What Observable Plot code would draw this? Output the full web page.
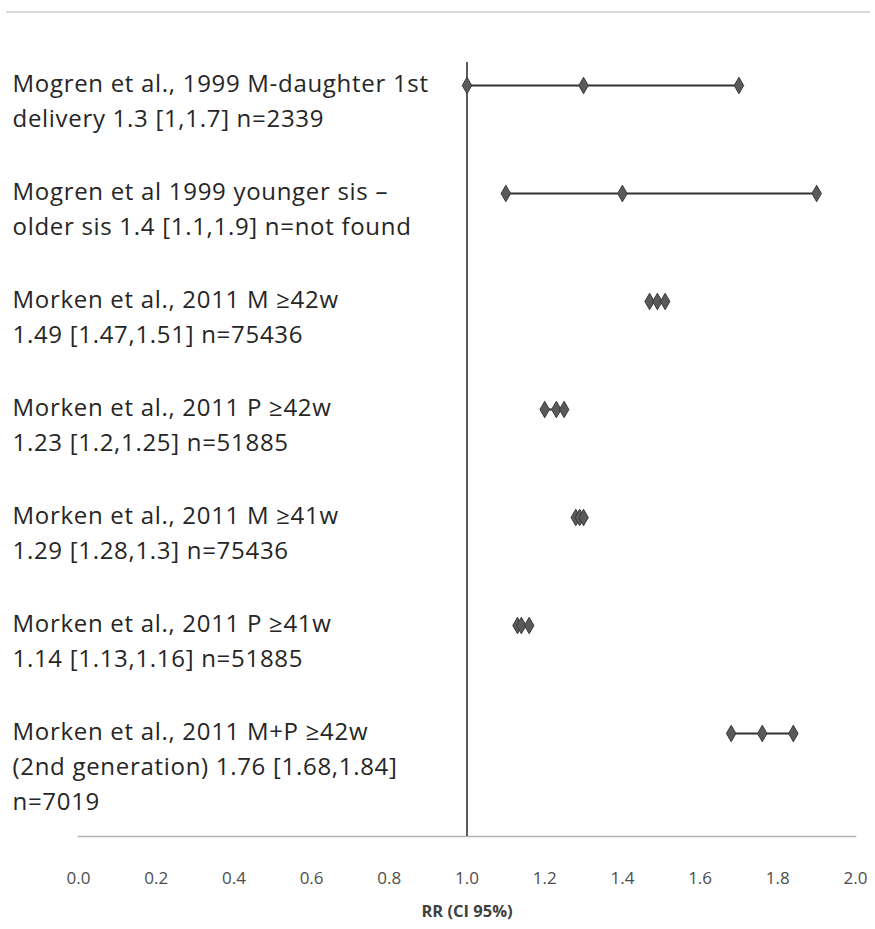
<!DOCTYPE html>
<html><head><meta charset="utf-8">
<script src="https://cdn.jsdelivr.net/npm/d3@7"></script>
<script src="https://cdn.jsdelivr.net/npm/@observablehq/plot@0.6"></script>
<style>
body{margin:0;background:#fff;}
#wrap{position:relative;width:875px;height:929px;}
#topline{position:absolute;top:11px;left:6px;right:5px;height:0;border-top:2px solid #d9d9d9;}
svg{font-family:"Open Sans",sans-serif;}
</style></head>
<body><div id="wrap"><div id="topline"></div></div>
<script>
const labels = [
  "Mogren et al., 1999 M-daughter 1st\ndelivery 1.3 [1,1.7] n=2339",
  "Mogren et al 1999 younger sis –\nolder sis 1.4 [1.1,1.9] n=not found",
  "Morken et al., 2011 M ≥42w\n1.49 [1.47,1.51] n=75436",
  "Morken et al., 2011 P ≥42w\n1.23 [1.2,1.25] n=51885",
  "Morken et al., 2011 M ≥41w\n1.29 [1.28,1.3] n=75436",
  "Morken et al., 2011 P ≥41w\n1.14 [1.13,1.16] n=51885",
  "Morken et al., 2011 M+P ≥42w\n(2nd generation) 1.76 [1.68,1.84]\nn=7019"
];
const rr = [1.3, 1.4, 1.49, 1.23, 1.29, 1.14, 1.76];
const lower = [1.0, 1.1, 1.47, 1.2, 1.28, 1.13, 1.68];
const upper = [1.7, 1.9, 1.51, 1.25, 1.3, 1.16, 1.84];
const xTicks = [0, 0.2, 0.4, 0.6, 0.8, 1.0, 1.2, 1.4, 1.6, 1.8, 2.0];

const rows = labels.map((label, i) => ({id: i, label, rr: rr[i], lo: lower[i], hi: upper[i]}));
const pts = rows.flatMap(r => [r.lo, r.rr, r.hi].map(v => ({id: r.id, v})));

const chart = Plot.plot({
  width: 875, height: 929,
  marginLeft: 78, marginRight: 20, marginTop: 62, marginBottom: 93,
  style: {fontFamily: "'Open Sans', sans-serif", background: "transparent"},
  x: {domain: [0, 2], ticks: xTicks},
  y: {type: "point", domain: rows.map(d => d.id), range: [83, 734], padding: 0, axis: null},
  marks: [
    Plot.frame({anchor: "bottom", stroke: "#b3b3b3", strokeWidth: 1.5}),
    Plot.axisX({ticks: xTicks, tickFormat: d3.format(".1f"), tickSize: 0, tickPadding: 35,
      fontSize: 17, color: "#4d4d4d", label: "RR (CI 95%)", labelAnchor: "center",
      labelArrow: "none", labelOffset: 80}),
    Plot.ruleX([1], {stroke: "#262626", strokeWidth: 1.5}),
    Plot.ruleY(rows, {y: "id", x1: "lo", x2: "hi", stroke: "#333", strokeWidth: 2}),
    Plot.dot(pts, {x: "v", y: "id", symbol: "diamond", r: 5, fill: "#5a5a5a", stroke: "#3a3a3a", strokeWidth: 1}),
    Plot.text(rows, {y: "id", text: "label", frameAnchor: "left", dx: -66, dy: -18,
      textAnchor: "start", lineAnchor: "top", lineHeight: 1.45, fontSize: 24, fill: "#262626"})
  ]
});
document.getElementById("wrap").appendChild(chart);
chart.querySelectorAll('[aria-label="text"] text').forEach(t => t.style.letterSpacing = "0.7px");
const lab = chart.querySelector('[aria-label="x-axis label"] text');
if (lab) { lab.style.fontWeight = "bold"; lab.style.fontSize = "16.5px"; lab.setAttribute("fill", "#404040"); }
</script></body></html>
